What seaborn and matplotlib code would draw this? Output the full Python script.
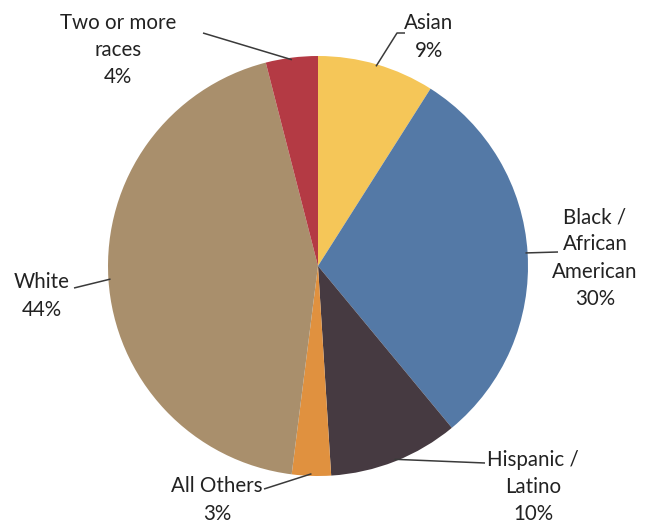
import numpy as np
import matplotlib
matplotlib.use("Agg")
import matplotlib.pyplot as plt
import seaborn as sns

# Race / ethnicity shares, clockwise from 12 o'clock
categories = ["Asian", "Black /\nAfrican\nAmerican", "Hispanic /\nLatino",
              "All Others", "White", "Two or more\nraces"]
shares = [9, 30, 10, 3, 44, 4]
colors = ["#F5C658", "#5479A6", "#463A41", "#E0913F", "#A98F6C", "#B43A44"]

# label block centres and leader-line outer ends, in pixels (top-left origin)
label_centers = [(429, 37), (595, 258), (533, 487), (217, 500), (42, 296), (118, 50)]
leader_ends = [[(397, 33), (405, 33)], [(558, 252)], [(485, 463)],
               [(264, 489)], [(74, 288)], [(203, 33)]]

sns.set_theme(style="white")
plt.rcParams["font.family"] = ["Lato", "DejaVu Sans"]

W, H = 659, 525
CX, CY, R = 318, 266, 210

fig = plt.figure(figsize=(W / 100, H / 100), dpi=100)
ax = fig.add_axes([0, 0, 1, 1])
wedges, _ = ax.pie(shares, colors=colors, startangle=90, counterclock=False,
                   radius=1.0, wedgeprops=dict(linewidth=0))
ax.set_xlim(-CX / R, (W - CX) / R)
ax.set_ylim(-(H - CY) / R, CY / R)
ax.set_aspect("auto")
ax.axis("off")


def to_data(p):
    return ((p[0] - CX) / R, (CY - p[1]) / R)


for w, label, share, center, ends in zip(wedges, categories, shares,
                                         label_centers, leader_ends):
    mid = np.deg2rad((w.theta1 + w.theta2) / 2)
    start = (np.cos(mid) * 0.99, np.sin(mid) * 0.99)
    pts = [start] + [to_data(p) for p in ends]
    xs, ys = zip(*pts)
    ax.plot(xs, ys, color="#3a3a3a", lw=1.1, solid_capstyle="butt")
    tx, ty = to_data(center)
    ax.text(tx, ty, f"{label}\n{share}%", ha="center", va="center",
            fontsize=14.8, color="#222222", linespacing=1.45)

fig.savefig("out.png", dpi=100, facecolor="white")
